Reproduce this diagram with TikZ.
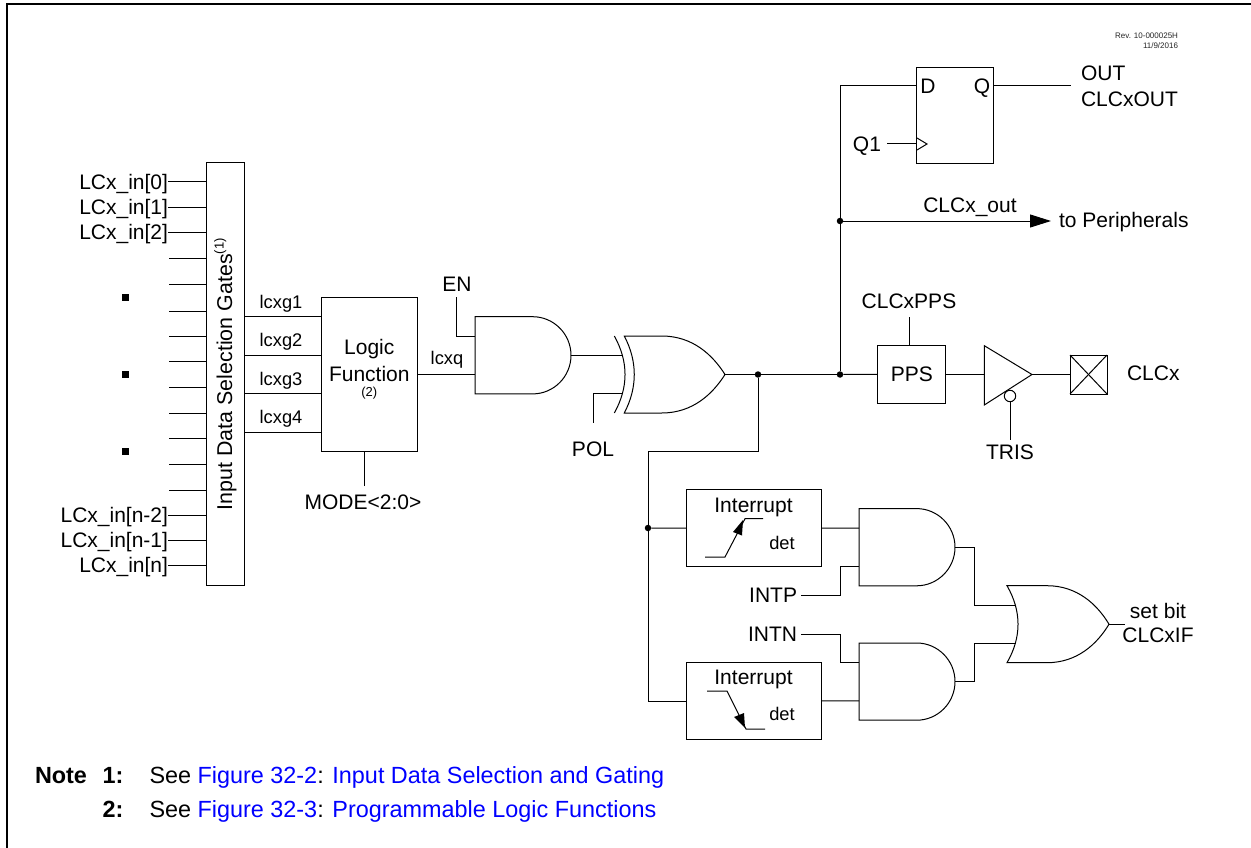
\documentclass[tikz,border=0pt]{standalone}
\usepackage{fontspec}
\setmainfont{Liberation Sans}
\usetikzlibrary{arrows.meta}
\definecolor{linkblue}{RGB}{0,0,255}
\newcommand{\fs}[1]{\fontsize{#1}{#1}\selectfont}
\tikzset{
  wire/.style={line width=1pt,black,line join=miter},
  boxn/.style={draw,line width=1pt,inner sep=0pt,outer sep=0pt,fill=white},
  lab/.style={inner sep=0pt,outer sep=0pt,text height=15pt,text depth=0pt,font=\fs{21}},
  labs/.style={inner sep=0pt,outer sep=0pt,text height=13pt,text depth=0pt,font=\fs{18.3}},
  tiny/.style={inner sep=0pt,outer sep=0pt,text height=9pt,text depth=0pt,font=\fs{13}},
  rev/.style={inner sep=0pt,outer sep=0pt,font=\fs{8},text=black!85,anchor=east},
  note/.style={inner sep=0pt,outer sep=0pt,text height=17pt,text depth=0pt,anchor=west,font=\fs{23.4}},
  noteb/.style={note,font=\fs{23.4}\bfseries},
  dot/.style={circle,fill=black,inner sep=0pt,outer sep=0pt,minimum size=6.5pt},
  sq/.style={fill=black,inner sep=0pt,outer sep=0pt,minimum size=7pt},
  andg/.pic={
    \draw[wire] (0,-38.6) -- (57.7,-38.6) .. controls (78.7,-38.6) and (96,-21.3) .. (96,0)
      .. controls (96,21.3) and (78.7,38.6) .. (57.7,38.6) -- (0,38.6) -- cycle;
    \coordinate (-a) at (0,-19.2);
    \coordinate (-b) at (0,19.2);
    \coordinate (-o) at (96,0);
  },
  xorg/.pic={
    \draw[wire] (0,-38.5) .. controls (14.3,-13) and (14.3,13) .. (0,38.5);
    \draw[wire] (10,-38.5) -- (47.4,-38.5) .. controls (78,-38.5) and (98,-20) .. (110.7,0)
      .. controls (98,20) and (78,38.5) .. (47.4,38.5) -- (10,38.5)
      .. controls (23.3,13) and (23.3,-13) .. cycle;
    \coordinate (-a) at (8.8,-19.2);
    \coordinate (-b) at (8.8,19.2);
    \coordinate (-o) at (110.7,0);
  },
  org/.pic={
    \draw[wire] (0,-38.5) -- (40,-38.5) .. controls (70,-38.5) and (90,-20) .. (102,0)
      .. controls (90,20) and (70,38.5) .. (40,38.5) -- (0,38.5)
      .. controls (14.7,13) and (14.7,-13) .. cycle;
    \coordinate (-a) at (9,-19.2);
    \coordinate (-b) at (9,19.2);
    \coordinate (-o) at (102,0);
  },
}
\begin{document}
\begin{tikzpicture}[x=1pt,y=-1pt]
\useasboundingbox (0,0) rectangle (1251,848);
\fill[white] (0,0) rectangle (1251,848);
% frame
\coordinate (fa) at (1251,4);
\coordinate (fb) at (7,4);
\coordinate (fc) at (7,848);
\draw[line width=2.2pt] (fa) -- (fb) -- (fc);
\node[rev] (rev1) at (1178,36) {Rev. 10-000025H};
\node[rev] (rev2) at (1178,46) {11/9/2016};

% input gates box
\node[boxn,minimum width=38pt,minimum height=422pt] (gates) at (225,374) {};
\node[lab,font=\fs{21.4},rotate=90,anchor=west] (gatest) at (224.5,510) {Input Data Selection Gates\raisebox{8.5pt}{\fs{13}(1)}};

\node[lab,anchor=east] (l0) at (168,182) {LCx\_in[0]};
\node[lab,anchor=east] (l1) at (168,207) {LCx\_in[1]};
\node[lab,anchor=east] (l2) at (168,232) {LCx\_in[2]};
\node[lab,anchor=east] (ln2) at (168,515) {LCx\_in[n-2]};
\node[lab,anchor=east] (ln1) at (168,540) {LCx\_in[n-1]};
\node[lab,anchor=east] (ln) at (168,565) {LCx\_in[n]};
\foreach \n in {l0,l1,l2,ln2,ln1,ln} \draw[wire] (\n.east) -- (\n.east -| gates.west);
\foreach \i/\y in {a/258.5,b/284.5,c/311,d/336,e/361,f/387,g/413,h/438,i/464,j/490} {
  \coordinate (free\i) at (169,\y);
  \draw[wire] (free\i) -- (free\i -| gates.west);
}
\node[sq] (sq1) at (125.5,297.5) {};
\node[sq] (sq2) at (125.5,374.5) {};
\node[sq] (sq3) at (125.5,451.5) {};

% logic function
\node[boxn,minimum width=95.5pt,minimum height=154pt] (logic) at (369.25,374.5) {};
\node[lab] (lf1) at (369.3,347) {Logic};
\node[lab] (lf2) at (369.3,374) {Function};
\node[tiny] (lf3) at (369.3,392) {(2)};
\foreach \i/\y/\ly in {1/316.5/302,2/355/340,3/393.5/379,4/432/417} {
  \coordinate (g\i) at (321.5,\y);
  \draw[wire] (g\i -| gates.east) -- (g\i);
  \node[labs] (lg\i) at (281,\ly) {lcxg\i};
}
\node[lab] (mode) at (363,502) {MODE<2:0>};
\coordinate (modet) at (364,486);
\draw[wire] (modet) -- (modet |- logic.south);

% AND / XOR
\pic (and1) at (475,355.3) {andg};
\pic (xor) at (614.3,374.5) {xorg};
\node[labs] (lq) at (447,358) {lcxq};
\draw[wire] (logic.east) -- (logic.east -| and1-b) ;
\node[lab] (en) at (457,284) {EN};
\coordinate (ent) at (456,297);
\draw[wire] (ent) |- (and1-a);
\draw[wire] (and1-o) -- (xor-a);
\node[lab] (pol) at (593,449) {POL};
\coordinate (polt) at (593,422.7);
\draw[wire] (polt) |- (xor-b);

% junctions
\node[dot] (j1) at (758,374.5) {};
\node[dot] (j2) at (840,374.5) {};
\node[dot] (j3) at (840,221) {};
\node[dot] (j4) at (648,528) {};
\draw[wire] (xor-o) -- (j1);
\draw[wire] (j1) -- (j2);

% FF
\node[boxn,minimum width=76.5pt,minimum height=96pt] (ff) at (955,115.2) {};
\coordinate (ffd) at (917,86);
\coordinate (ffq) at (993,86);
\coordinate (ffc) at (917,144);
\coordinate (fft) at (1070.7,86);
\coordinate (q1t) at (887,144);
\node[lab] (dl) at (928,86) {D};
\node[lab] (ql) at (982,86) {Q};
\node[lab,anchor=east] (q1) at (881,144) {Q1};
\node[lab,anchor=west] (o1) at (1081,73) {OUT};
\node[lab,anchor=west] (o2) at (1081,99) {CLCxOUT};
\draw[wire] (j2) -- (j3);
\draw[wire] (j3) |- (ffd);
\draw[wire] (ffq) -- (fft);
\draw[wire] (q1t) -- (ffc);
\draw[wire] (917,138) -- (927,144) -- (917,150);

% to peripherals
\coordinate (tip) at (1051,221);
\node[lab] (cout) at (970,205) {CLCx\_out};
\node[lab,anchor=west] (per) at (1059,220) {to Peripherals};
\draw[wire,-{Triangle[length=21pt,width=13pt]}] (j3) -- (tip);

% PPS, buffer, pad
\node[boxn,minimum width=67.7pt,minimum height=57.3pt,lab,text height=15pt] (pps) at (911.8,374.4) {PPS};
\node[lab] (ppsl) at (909,301) {CLCxPPS};
\coordinate (ppst) at (909.7,317);
\draw[wire] (ppst) -- (ppst |- pps.north);
\draw[wire] (j2) -- (pps.west);
\coordinate (ba) at (984.3,345.7);
\coordinate (bb) at (984.3,405);
\coordinate (bt) at (1032,374.5);
\draw[wire] (ba) -- (bt) -- (bb) -- cycle;
\draw[wire] (pps.east) -- (pps.east -| ba);
\node[circle,draw,line width=1pt,fill=white,inner sep=0pt,outer sep=0pt,minimum size=11.4pt] (bub) at (1010,396) {};
\node[lab] (tris) at (1010,452) {TRIS};
\coordinate (trist) at (1010,440);
\draw[wire] (bub.south) -- (trist);
\node[boxn,minimum width=37pt,minimum height=39pt] (pad) at (1088.5,374.5) {};
\draw[wire] (pad.north west) -- (pad.south east);
\draw[wire] (pad.south west) -- (pad.north east);
\draw[wire] (bt) -- (pad.west);
\node[lab,anchor=west] (clcx) at (1127,373) {CLCx};

% interrupt path
\coordinate (bend) at (758,451.7);
\draw[wire] (j1) -- (bend) -| (j4);
\node[boxn,minimum width=135pt,minimum height=76.8pt] (int1) at (753.5,528.1) {};
\node[boxn,minimum width=135pt,minimum height=77pt] (int2) at (753.5,701) {};
\draw[wire] (j4) -- (int1.west);
\draw[wire] (j4) |- (int2.west);
\node[lab] (il1) at (753.5,505) {Interrupt};
\node[lab] (il2) at (753.5,677) {Interrupt};
\node[labs] (d1) at (782,543) {det};
\node[labs] (d2) at (782,714) {det};
% edge symbols
\coordinate (e1a) at (705,557);
\coordinate (e1b) at (725,557);
\coordinate (e1c) at (745,518.7);
\coordinate (e1d) at (763,518.7);
\draw[wire] (e1a) -- (e1b) -- (e1c) -- (e1d);
\fill (743,520) -- (733,532) -- (742,535.5) -- cycle;
\coordinate (e2a) at (707,691);
\coordinate (e2b) at (727,691);
\coordinate (e2c) at (746,729);
\coordinate (e2d) at (765,729);
\draw[wire] (e2a) -- (e2b) -- (e2c) -- (e2d);
\fill (745,728) -- (734,717) -- (744,713) -- cycle;

% lower gates
\pic (and2) at (859,547.2) {andg};
\pic (and3) at (859,681.6) {andg};
\pic (or) at (1007,624.2) {org};
\draw[wire] (int1.east) -- (and2-a);
\draw[wire] (int2.east) -- (and3-b);
\node[lab,anchor=east] (intp) at (797,595) {INTP};
\node[lab,anchor=east] (intn) at (797,634) {INTN};
\coordinate (intpt) at (801,595);
\coordinate (intnt) at (801,634);
\draw[wire] (intpt) -- ++(39,0) |- (and2-b);
\draw[wire] (intnt) -- ++(39,0) |- (and3-a);
\draw[wire] (and2-o) -- ++(19,0) |- (or-a);
\draw[wire] (and3-o) -- ++(19,0) |- (or-b);
\coordinate (ort) at (1125,624.2);
\draw[wire] (or-o) -- (ort);
\node[lab] (sb) at (1158,611) {set bit};
\node[lab] (cif) at (1158,635) {CLCxIF};

% notes
\node[noteb] (n0) at (35,775) {Note};
\node[noteb] (n1) at (102.5,775) {1:};
\node[noteb] (n2) at (102.5,809) {2:};
\node[note] (t1) at (149.5,775) {See \textcolor{linkblue}{Figure 32-2}: \textcolor{linkblue}{Input Data Selection and Gating}};
\node[note] (t2) at (149.5,809) {See \textcolor{linkblue}{Figure 32-3}: \textcolor{linkblue}{Programmable Logic Functions}};
\end{tikzpicture}
\end{document}
